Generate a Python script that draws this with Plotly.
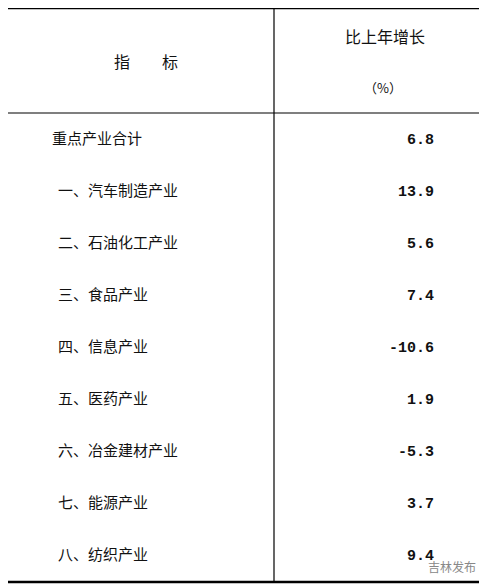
import plotly.graph_objects as go

labels = ["重点产业合计", "一、汽车制造产业", "二、石油化工产业", "三、食品产业", "四、信息产业",
          "五、医药产业", "六、冶金建材产业", "七、能源产业", "八、纺织产业"]
growth = [6.8, 13.9, 5.6, 7.4, -10.6, 1.9, -5.3, 3.7, 9.4]
indent = [0, 1, 1, 1, 1, 1, 1, 1, 1]

# page has an 8px body margin, so work in window pixels and shift by 8
OFF = 8
W, H = 487 - 2 * OFF, 588 - OFF
top_row, step = 140 - OFF, 52
rows = list(range(len(labels)))
yr = [(H - top_row) / step, -top_row / step]

cn = "Noto Sans CJK SC"
fig = go.Figure()
fig.add_trace(go.Scatter(
    x=[52 - OFF + 6 * i for i in indent], y=rows, mode="text", text=labels,
    textposition="middle right", textfont=dict(family=cn, size=15, color="#111"),
    hoverinfo="skip"))
fig.add_trace(go.Scatter(
    x=[434 - OFF] * len(growth), y=rows, mode="text", text=[f"{v:.1f}" for v in growth],
    textposition="middle left",
    textfont=dict(family="Liberation Mono", size=15, color="#111", weight="bold"),
    hoverinfo="skip"))

def py(p):
    return (p - OFF - top_row) / step

def px(p):
    return p - OFF

shapes = [
    dict(type="line", x0=px(6), x1=px(480), y0=py(8), y1=py(8), line=dict(color="#000", width=2.5)),
    dict(type="line", x0=px(6), x1=px(480), y0=py(113), y1=py(113), line=dict(color="#000", width=1.2)),
    dict(type="line", x0=px(6), x1=px(480), y0=py(582), y1=py(582), line=dict(color="#000", width=2.5)),
    dict(type="line", x0=px(274), x1=px(274), y0=py(8), y1=py(582), line=dict(color="#000", width=1.2)),
]
ann = [
    dict(x=px(146), y=py(61), text="指　　标", font=dict(family=cn, size=16, color="#111")),
    dict(x=px(385), y=py(36), text="比上年增长", font=dict(family=cn, size=16, color="#111")),
    dict(x=px(383), y=py(87), text="（%）", font=dict(family=cn, size=13, color="#111")),
    dict(x=px(452), y=py(566), text="吉林发布", font=dict(family=cn, size=12, color="#888")),
]
for a in ann:
    a.update(showarrow=False, xref="x", yref="y")

fig.update_layout(
    width=W, height=H, margin=dict(l=0, r=0, t=0, b=0),
    paper_bgcolor="white", plot_bgcolor="white", showlegend=False,
    xaxis=dict(range=[0, W], visible=False, fixedrange=True),
    yaxis=dict(range=yr, visible=False, fixedrange=True),
    shapes=shapes, annotations=ann)
fig.write_html("out.html")
